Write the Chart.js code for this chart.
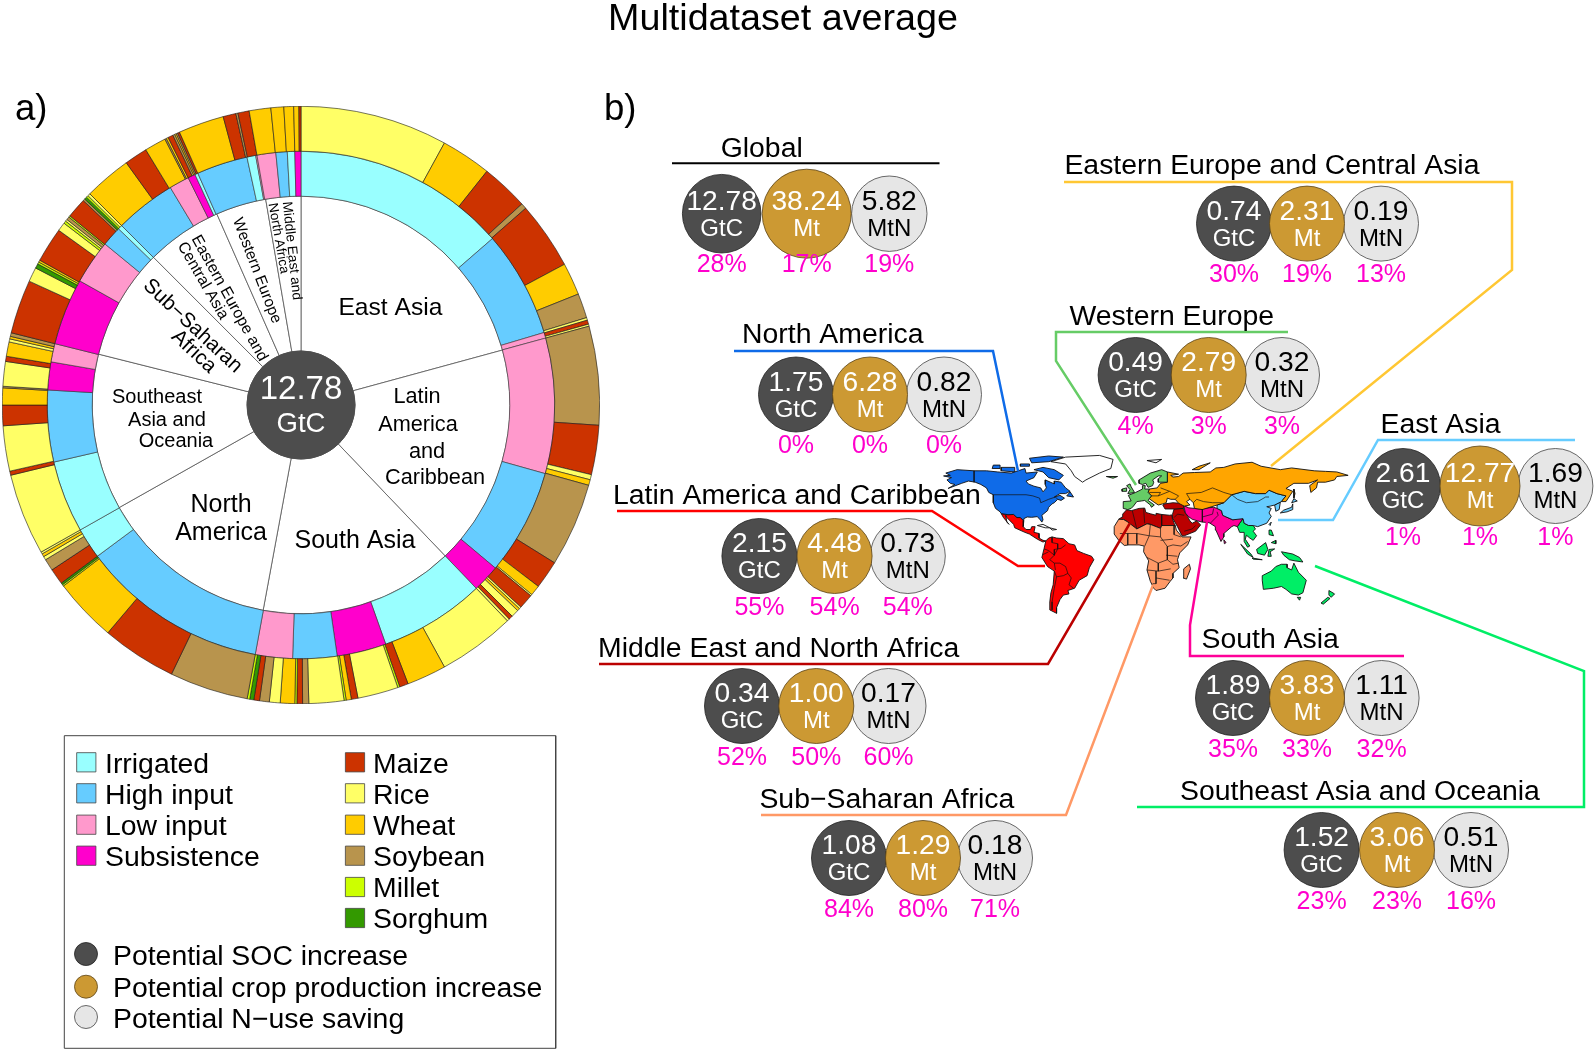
<!DOCTYPE html>
<html>
<head>
<meta charset="utf-8">
<title>Multidataset average</title>
<script src="https://cdn.jsdelivr.net/npm/chart.js@4"></script>
<style>
  html, body { margin: 0; padding: 0; background: #fff; overflow: hidden; }
  canvas { position: absolute; }
  #ringChart { left: 2px; top: 106px; z-index: 1; }
  #mapChart { left: 929.6px; top: 448.4px; z-index: 2; }
  #panelChart { left: 0; top: 0; z-index: 3; }
</style>
</head>
<body>
<canvas id="ringChart" width="598" height="598"></canvas>
<canvas id="mapChart" width="424" height="171"></canvas>
<canvas id="panelChart" width="1594" height="1049"></canvas>
<script>
// Panel a: the three rings, read clockwise from the top
const ringRegions = ['East Asia', 'Latin America and Caribbean', 'South Asia', 'North America', 'Southeast Asia and Oceania', 'Sub-Saharan Africa', 'Eastern Europe and Central Asia', 'Western Europe', 'Middle East and North Africa'];
const ringRegionValues = [2.61, 2.15, 1.89, 1.75, 1.52, 1.08, 0.74, 0.49, 0.34];

const managementKinds = [
  'Irrigated', 'High input', 'Low input',
  'Low input', 'High input', 'Subsistence',
  'Irrigated', 'Subsistence', 'High input', 'Low input',
  'High input', 'Irrigated',
  'Irrigated', 'High input', 'Subsistence', 'Low input',
  'Subsistence', 'Low input', 'High input', 'Irrigated',
  'High input', 'Low input', 'Subsistence', 'Irrigated',
  'High input', 'Irrigated', 'Low input',
  'Low input', 'High input', 'Irrigated', 'Subsistence'
];
const managementValues = [
  49, 24.4, 1.3,
  31, 24.3, 6.3,
  24.2, 11.3, 10.1, 8.5,
  43, 7.1,
  16.5, 16.4, 6.4, 4.2,
  15.3, 10.1, 4.6, 1,
  14, 4.6, 1.7, 0.7,
  11.7, 2, 0.3,
  4.3, 2.6, 1.7, 1.4
];

const cropKinds = [
  'Rice', 'Wheat', 'Maize', 'Soybean', 'Maize', 'Wheat', 'Soybean', 'Rice', 'Maize', 'Rice',
  'Soybean', 'Maize', 'Rice', 'Wheat', 'Soybean', 'Maize', 'Wheat', 'Rice', 'Maize', 'Rice', 'Wheat', 'Rice', 'Maize', 'Rice',
  'Rice', 'Wheat', 'Maize', 'Millet', 'Rice', 'Maize', 'Wheat', 'Millet', 'Rice', 'Soybean', 'Maize', 'Millet', 'Wheat', 'Rice', 'Soybean', 'Maize', 'Sorghum', 'Millet',
  'Soybean', 'Maize', 'Wheat', 'Millet', 'Sorghum', 'Maize', 'Soybean', 'Rice', 'Wheat', 'Rice',
  'Rice', 'Maize', 'Rice', 'Maize', 'Wheat', 'Soybean', 'Rice', 'Maize', 'Wheat', 'Rice', 'Wheat', 'Soybean',
  'Maize', 'Rice', 'Sorghum', 'Millet', 'Wheat', 'Maize', 'Rice', 'Millet', 'Rice', 'Soybean', 'Millet', 'Maize', 'Soybean', 'Sorghum', 'Millet', 'Rice',
  'Wheat', 'Maize', 'Wheat', 'Soybean', 'Wheat', 'Maize', 'Soybean', 'Wheat', 'Soybean', 'Maize',
  'Wheat', 'Maize', 'Soybean', 'Maize',
  'Wheat', 'Wheat', 'Wheat', 'Wheat', 'Maize'
];
const cropValues = [
  28.7, 9.8, 9.2, 1.1, 13.1, 6.3, 4.8, 0.5, 0.8, 0.4,
  19.2, 9.6, 1, 1.1, 16.3, 5.5, 2, 0.3, 2.9, 0.4, 0.5, 1.5, 0.8, 0.5,
  15, 7.7, 1.7, 0.4, 7.9, 1.3, 1, 0.4, 6.8, 1.2, 1.1, 0.4, 2.8, 2.1, 1.9, 1.1, 0.8, 0.5,
  15.3, 14.6, 12.4, 0.3, 0.4, 3.1, 2.3, 0.7, 0.6, 0.4,
  15.9, 0.8, 8.8, 4, 3.3, 0.3, 4.8, 1, 2.8, 0.6, 0.5, 0.7,
  10.5, 2.8, 0.9, 0.4, 0.4, 6.8, 1.7, 0.5, 0.4, 0.6, 0.3, 3.9, 0.4, 0.5, 0.4, 0.5,
  9.2, 4.5, 4.2, 0.3, 0.4, 1, 0.4, 0.3, 0.3, 0.4,
  8.9, 2.5, 0.4, 2.2,
  4.2, 2.5, 1.9, 1, 0.4
];

// Panel b: figures per region
const panelRegions = ['Global', 'Eastern Europe and Central Asia', 'Western Europe', 'North America', 'East Asia', 'Latin America and Caribbean', 'Middle East and North Africa', 'South Asia', 'Sub\u2212Saharan Africa', 'Southeast Asia and Oceania'];
const socIncrease = [12.78, 0.74, 0.49, 1.75, 2.61, 2.15, 0.34, 1.89, 1.08, 1.52];
const cropIncrease = [38.24, 2.31, 2.79, 6.28, 12.77, 4.48, 1.00, 3.83, 1.29, 3.06];
const nSaving = [5.82, 0.19, 0.32, 0.82, 1.69, 0.73, 0.17, 1.11, 0.18, 0.51];
const socPct = [28, 30, 4, 0, 1, 55, 52, 35, 84, 23];
const cropPct = [17, 19, 3, 0, 1, 54, 50, 33, 80, 23];
const nPct = [19, 13, 3, 0, 1, 54, 60, 32, 71, 16];

// Colours
const kindColors = {
  'Irrigated': '#99FFFF', 'High input': '#66CCFF', 'Low input': '#FF99CC', 'Subsistence': '#FF00CC',
  'Maize': '#CC3300', 'Rice': '#FFFF66', 'Wheat': '#FFCC00', 'Soybean': '#B8944D', 'Millet': '#CCFF00', 'Sorghum': '#339900'
};
const SOC_DARK = '#4D4D4D', CROP_GOLD = '#CC9933', N_LIGHT = '#E6E6E6', PCT_PINK = '#FF00CC';
const FONT = '"Liberation Sans", Arial, sans-serif';

// Map outlines as lon/lat
const mapRegions = {
  northAmerica: {
    color: '#0F6BE8',
    shapes: [
      [[-141,70],[-156,71],[-166,68],[-162,66],[-168,65.5],[-161,64],[-165,62],[-162,59],[-158,58],[-164,54.5],[-152,59],[-146,61],[-140,60],[-135,58],[-130,55],[-128,51],[-124,49],[-124,46],[-124,42],[-122,37],[-118,34],[-117,32.5],[-111,31.5],[-106,31.7],[-103,29],[-100,29],[-97,26],[-97,28],[-94,29.5],[-90,29.2],[-85,29.8],[-82.5,27],[-81,25],[-80,27],[-81,31],[-76,35],[-75,38],[-72,41],[-70,42],[-67,45],[-64,44],[-61,46],[-65,48.5],[-70,47],[-65,50],[-60,50],[-56,52],[-60,55],[-64,60],[-70,61],[-70,58.5],[-78,62],[-78,58],[-77,55],[-80,51.5],[-82,55],[-88,56.5],[-93,58.5],[-95,61],[-88,64],[-85,69],[-95,68],[-96,72],[-108,68],[-120,69],[-130,70]],
      [[-80,73],[-70,71],[-62,66],[-66,62],[-75,64],[-80,69],[-88,71]],
      [[-117,70],[-105,69],[-105,73],[-117,73]],
      [[-90,77],[-75,78],[-62,82],[-75,83],[-92,81]],
      [[-125,72],[-118,72],[-118,75],[-124,75]],
      [[-100,74],[-92,74],[-92,76],[-100,76]],
      [[-59,48],[-53,47],[-56,51.5]]
    ]
  },
  latinAmerica: {
    color: '#FF0000',
    shapes: [
      [[-117,32.5],[-111,31.5],[-106,31.7],[-103,29],[-100,29],[-97,26],[-97.5,21],[-95,18.5],[-91,18.5],[-90,21],[-87,21],[-88,16],[-83.5,15],[-83.5,11],[-80,9],[-77.5,8.5],[-80,7.5],[-85,10],[-92,14.5],[-96,16],[-105,20],[-106,23],[-112,29],[-113,31],[-112,25],[-110,23],[-115,29]],
      [[-77.5,8.5],[-75,11],[-72,12],[-68,11],[-62,10.5],[-57,6],[-52,5],[-50,0],[-44,-2.5],[-37,-5],[-35,-8],[-39,-15],[-41,-22],[-48,-26],[-52,-33],[-58,-35],[-57,-38],[-62,-39],[-65,-43],[-68,-50],[-68,-55],[-74,-52],[-74,-45],[-73,-37],[-71,-30],[-70,-18],[-76,-14],[-81,-6],[-80,-2],[-79,2]]
    ]
  },
  greenlandIslands: {
    color: '#FFFFFF',
    shapes: [
      [[-73,78],[-60,82],[-30,83.5],[-18,80],[-20,72],[-30,68],[-42,62],[-45,60],[-52,65],[-55,70],[-60,76]],
      [[-85,22],[-80,23],[-74,20],[-78,20]],
      [[-74,20],[-68,18.5],[-72,18]],
      [[12,79],[25,80],[20,77]]
    ]
  },
  westernEurope: {
    color: '#66CC66',
    shapes: [
      [[-5,50],[1,51],[-2,56],[-3,58.5],[-6,57],[-3,53.5]],
      [[-10,52],[-6,52],[-6,55],[-10,54]],
      [[-24,65],[-14,65],[-18,63.5]],
      [[-9,37],[-9,43],[-2,43.5],[-4.5,48.5],[2,51],[8,54],[8,57],[10.5,57],[10,54],[14,54],[13,51],[16,48],[14,45.5],[13,44],[18.5,40],[16,38],[15,40],[10,44],[7,43.5],[3,43],[0,39],[-2,37],[-5,36]],
      [[5,59],[8,58],[11,59],[13,55.5],[17,57],[18,60],[17,62],[22,65.5],[25,65.5],[22,63],[22,60],[30,60],[30,69],[25,71],[15,68],[5,62]]
    ]
  },
  easternEurope: {
    color: '#FFA500',
    shapes: [
      [[14,54],[21,55],[24,59],[30,60],[30,69],[40,67],[33,66],[35,64.5],[40,65],[44,68],[54,68.5],[68,69],[73,72.5],[80,73],[90,76],[105,77.5],[113,74],[130,71],[140,72.5],[160,70],[170,69.5],[180,69],[190,66],[180,65],[178,62],[170,60],[163,60],[162,55],[157,51],[156,57],[163,62],[155,59],[142,59],[135,54.5],[141,52],[135,43],[131,43],[135,48],[127,50],[120,53],[117,50],[108,50],[98,52],[87,49],[80,42],[74,40],[66,37.5],[61,36],[54,37],[53,42],[50,45],[47,43],[50,40],[45,39],[40,41.5],[37,45],[33,45],[30,46],[29,42],[26,41],[22,40],[19,42],[14,45.5],[16,48],[13,51]],
      [[142,46],[143,50],[142,54]],
      [[52,71],[58,74],[68,77],[58,71]]
    ]
  },
  eastAsia: {
    color: '#66CCFF',
    shapes: [
      [[74,40],[80,42],[87,49],[98,52],[108,50],[117,50],[120,53],[127,50],[135,48],[131,43],[125,40],[121,39],[118,38.5],[122,37],[120,33],[122,30],[118,24],[110,21],[106,22],[102,22],[98,24],[97,28],[88,27],[81,30],[79,31],[78,35],[74,37]],
      [[125,40],[130,42.5],[129,36],[126,34.5]],
      [[130,33],[136,34],[141,36],[141,41],[140,38],[133,35.5]],
      [[140,42],[145,43.5],[142,45.5]],
      [[120,23],[122,25],[121,22]]
    ]
  },
  southAsia: {
    color: '#FF0099',
    shapes: [
      [[44.5,39.5],[49,37.5],[54,37],[60,36.5],[66,37.5],[71,38],[74,37],[78,35],[79,31],[81,30],[88,27],[92,28],[97,28],[94,24],[92,21],[89,22],[87,21],[80,15],[80,12],[77.5,8],[73,18],[72.5,21],[67,24.5],[61,25],[57,26],[52,27.5],[48.5,30],[46,33]],
      [[80,9.5],[82,7],[80.5,6]]
    ]
  },
  southeastAsia: {
    color: '#00EE66',
    shapes: [
      [[92,21],[94,24],[97,28],[98,24],[102,22],[106,22],[108,19],[106,17],[109,13],[106,9],[103,11],[100,13.5],[99,10],[103,4],[101,3],[98,8],[98,16],[94,16]],
      [[95,5.5],[104,-3],[106,-6],[101,-3]],
      [[105,-6.5],[114,-8],[106,-7.5]],
      [[109,1],[117,7],[119,1],[116,-4],[110,-2.5]],
      [[119,-5],[120,1],[125,1.5],[121,-1],[122,-5]],
      [[131,-1],[141,-3],[147,-6],[150,-10],[143,-9],[138,-8],[133,-4]],
      [[120,18],[122,18],[124,13],[120,14]],
      [[122,7],[126,9],[126,6]],
      [[114,-22],[122,-18],[126,-14],[131,-12],[136,-12],[136,-15],[140,-17],[142,-11],[146,-19],[153,-26],[150,-37],[146,-39],[140,-38],[135,-34],[131,-31.5],[124,-33],[115,-34],[114,-26]],
      [[145,-41],[148,-41],[147,-43.5]],
      [[173,-35],[178,-38],[175,-41],[173,-39]],
      [[172,-41],[174,-42],[168,-47],[166,-46]]
    ]
  },
  subSaharanAfrica: {
    color: '#FF9966',
    shapes: [
      [[-17,21],[-13,27.5],[-8.7,27.3],[-4.8,25],[3,19],[12,23.5],[15,23],[24,19.5],[25,22],[37,22],[38,18],[43,12],[51,12],[48,5],[41,-2],[39,-8],[40.5,-15],[35,-20],[35,-24],[32.5,-27],[28,-33],[20,-35],[18,-33],[15,-27],[12,-17],[13.5,-9],[9,-1],[9.5,4],[5,5],[-4,5],[-8,4.5],[-13,9],[-17,14.5]],
      [[49.5,-12],[50.5,-16],[47,-25],[44,-24],[44.5,-16]]
    ]
  },
  middleEast: {
    color: '#BB0000',
    shapes: [
      [[-13,27.5],[-10,29.5],[-9.5,32],[-6,35.8],[-2,35],[5,37],[10,37.3],[11,33.5],[15,32.3],[20,31],[20,32.7],[25,31.7],[32,31],[34,31.3],[34.5,28],[36,24],[37,22],[25,22],[24,19.5],[15,23],[12,23.5],[3,19],[-4.8,25],[-8.7,27.3]],
      [[26,40],[28,36.5],[36,36.5],[44,37],[44.5,40],[41.5,41.5],[35,42],[28,41]],
      [[34.5,31.5],[36,36.5],[44,37],[46,33],[48,30],[50,26],[52,24],[56,26],[59.5,22.5],[55,17],[45,13],[43,13],[39,21],[35,28]]
    ]
  }
};
const mapBorders = [
  [[-124,49],[-95,49],[-89,48],[-83,46],[-82,42],[-75,45],[-69,47],[-67,45]],
  [[-141,70],[-141,60]],
  [[-60,5],[-64,2],[-70,1],[-70,-4],[-74,-8],[-70,-11],[-65,-11],[-60,-14],[-58,-20],[-55,-24],[-57,-30],[-53,-33]],
  [[-70,-18],[-68,-23],[-70,-33],[-72,-45],[-72,-52]],
  [[-68,-23],[-62,-22],[-58,-20]],
  [[-70,-11],[-69,-17]],
  [[-72,12],[-72,7],[-67,6],[-67,1.5],[-70,-4],[-75,0],[-79,1.5]],
  [[-80,-3.5],[-75,-1]],
  [[-12,15],[-5,15],[3,15],[14,13],[15,23]],
  [[14,13],[24,12],[24,19.5]],
  [[24,12],[30,3.5],[35,5],[42,4],[48,8]],
  [[30,3.5],[30,-8],[22,-11],[12,-6]],
  [[14,13],[10,4]],
  [[3,15],[3,6]],
  [[-5,15],[-5,5]],
  [[30,-8],[35,-12],[40,-11]],
  [[22,-11],[22,-18],[12,-17]],
  [[22,-18],[33,-16]],
  [[20,-18],[20,-29],[17,-29]],
  [[20,-24],[26,-25],[32,-26]],
  [[29,-4],[39,-5]],
  [[36,22],[36,14],[42,12]],
  [[24,9],[35,10]],
  [[-1,35],[3,19]],
  [[9,37],[10,24]],
  [[25,31.7],[25,22]],
  [[61,36.5],[61,25]],
  [[74,34],[75,31],[70,26],[68,24]],
  [[71,37],[70,32],[61,29.5]],
  [[87,49],[92,45],[100,42],[110,43],[117,47],[120,47]],
  [[50,45],[47,50],[60,51],[70,55],[80,51],[87,49]],
  [[22,48],[32,52],[40,48],[37,45]],
  [[53,42],[56,45],[62,43],[70,42],[80,42]],
  [[14,51],[24,51],[22,48],[16,48]],
  [[24,55],[32,52]],
  [[45,31],[39,32],[36,29]],
  [[55,22],[52,19],[45,17]]
];

// Page layout for panel b, in page pixels
const groupLayout = [
  { xs: [721.7, 806.7, 889.3], y: 213.7, r: [39.3, 44.5, 37.7], tx: 761.7, ty: 156.5 },
  { xs: [1234, 1307, 1381], y: 223.6, r: [37.5, 37.5, 37.5], tx: 1064.4, ty: 174 },
  { xs: [1135.6, 1208.7, 1282], y: 375, r: [37.5, 37.5, 37.5], tx: 1069.5, ty: 325 },
  { xs: [796, 870, 944], y: 394.5, r: [37.5, 37.5, 37.5], tx: 742, ty: 342.7 },
  { xs: [1403, 1480, 1555.4], y: 486, r: [37.5, 40, 37.5], tx: 1380.6, ty: 433 },
  { xs: [759.4, 834.6, 907.8], y: 556, r: [37.5, 37.5, 37.5], tx: 613, ty: 504.4 },
  { xs: [742, 816.3, 888.5], y: 706, r: [37.5, 37.5, 37.5], tx: 598, ty: 657 },
  { xs: [1233, 1307, 1381.6], y: 698, r: [37.5, 37.5, 37.5], tx: 1201.6, ty: 647.7 },
  { xs: [849, 923, 995], y: 858, r: [37.5, 37.5, 37.5], tx: 759.4, ty: 808 },
  { xs: [1321.6, 1397, 1471], y: 850, r: [37.5, 37.5, 37.5], tx: 1180, ty: 800 }
];
const leaderLines = [
  { color: '#000000', width: 2, pts: [[672, 163.3], [939.5, 163.3]] },
  { color: '#FFC733', width: 2.5, pts: [[1064, 182], [1512, 182], [1512, 270], [1271, 466]] },
  { color: '#66CC66', width: 2.5, pts: [[1288, 332], [1056, 332], [1056, 361], [1136, 485]] },
  { color: '#0F6BE8', width: 2.5, pts: [[734, 351], [993, 351], [1018, 471]] },
  { color: '#FF0000', width: 2.5, pts: [[617, 511], [932, 511], [1018, 566], [1045, 566]] },
  { color: '#BB0000', width: 2.5, pts: [[599, 664], [1048, 664], [1130, 523]] },
  { color: '#FF9966', width: 2.5, pts: [[761, 815], [1066, 815], [1153, 585]] },
  { color: '#FF0099', width: 2.5, pts: [[1404, 656], [1190, 656], [1190, 625], [1207, 522]] },
  { color: '#00EE66', width: 2.5, pts: [[1137, 807], [1584, 807], [1584, 671], [1315, 566]] },
  { color: '#66CCFF', width: 2.5, pts: [[1575, 440], [1378, 440], [1333, 520], [1278, 520]] }
];
const legendBox = [[64.3, 735.7], [555.7, 735.7], [555.7, 1048.3], [64.3, 1048.3], [64.3, 735.7]];
const legendLeft = ['Irrigated', 'High input', 'Low input', 'Subsistence'];
const legendRight = ['Maize', 'Rice', 'Wheat', 'Soybean', 'Millet', 'Sorghum'];
const legendRows = [762.3, 793.3, 824.7, 855.7, 887, 918];
const legendCircles = ['Potential SOC increase', 'Potential crop production increase', 'Potential N\u2212use saving'];
const legendCircleRows = [954, 986.7, 1017];

// Text inside the rings: [text, x, y, size, degrees]
const ringLabels = [
  ['East Asia', 390.4, 308, 24.6, 0],
  ['Latin', 417, 397, 21.7, 0],
  ['America', 418, 425, 21.7, 0],
  ['and', 427, 452, 21.7, 0],
  ['Caribbean', 435, 478, 21.7, 0],
  ['South Asia', 355, 541, 25, 0],
  ['North', 221, 505, 25, 0],
  ['America', 221, 533, 25, 0],
  ['Southeast', 157, 397, 20, 0],
  ['Asia and', 167, 420, 20, 0],
  ['Oceania', 176, 441, 20, 0],
  ['Sub\u2212Saharan', 192.5, 326, 20.7, 43],
  ['Africa', 193.7, 351.7, 20.7, 43],
  ['Eastern Europe and', 229.3, 298.3, 15.9, 61],
  ['Central Asia', 202.7, 280.7, 15.9, 60],
  ['Western Europe', 256.7, 270.7, 15.5, 69],
  ['Middle East and', 291.7, 250.7, 13.8, 84],
  ['North Africa', 278.3, 238.3, 13.5, 80]
];

new Chart(document.getElementById('ringChart'), {
  type: 'doughnut',
  data: {
    labels: cropKinds,
    datasets: [
      { label: 'Crops', data: cropValues, backgroundColor: cropKinds.map(k => kindColors[k]), borderColor: '#1a1a1a', borderWidth: 0.6, weight: 45 },
      { label: 'Management', data: managementValues, backgroundColor: managementKinds.map(k => kindColors[k]), borderColor: '#333', borderWidth: 0.6, weight: 45 },
      { label: 'Regions', data: ringRegionValues, backgroundColor: '#fff', borderColor: '#555', borderWidth: 0.8, weight: 155 }
    ]
  },
  options: {
    responsive: false,
    animation: false,
    cutout: 54,
    layout: { padding: 0 },
    events: [],
    plugins: { legend: { display: false }, tooltip: { enabled: false } }
  }
});

// Map, real lon/lat axes
const mapDatasets = [];
Object.values(mapRegions).forEach(region => {
  region.shapes.forEach(shape => {
    mapDatasets.push({
      data: shape.concat([shape[0]]).map(p => ({ x: p[0], y: p[1] })),
      showLine: true, fill: 'shape', backgroundColor: region.color,
      borderColor: '#111', borderWidth: 0.9, pointRadius: 0, tension: 0, order: 2
    });
  });
});
mapBorders.forEach(line => {
  mapDatasets.push({
    data: line.map(p => ({ x: p[0], y: p[1] })),
    showLine: true, fill: false, borderColor: '#111', borderWidth: 0.7, pointRadius: 0, tension: 0, order: 1
  });
});
new Chart(document.getElementById('mapChart'), {
  type: 'scatter',
  data: { datasets: mapDatasets },
  options: {
    responsive: false,
    animation: false,
    layout: { padding: 0, autoPadding: false },
    events: [],
    scales: {
      x: { type: 'linear', min: -180, max: 195.2, display: false },
      y: { type: 'linear', min: -60, max: 90, display: false }
    },
    plugins: { legend: { display: false }, tooltip: { enabled: false } }
  }
});

// Circles, leaders, legend and all text on a page-sized overlay
function circleSet(values, color, edge, idx, order) {
  return {
    data: groupLayout.map(g => ({ x: g.xs[idx], y: g.y })),
    pointRadius: groupLayout.map(g => g.r[idx]),
    backgroundColor: color, pointBackgroundColor: color, pointBorderColor: edge, pointBorderWidth: 0.8,
    showLine: false, order: order
  };
}
const panelDatasets = [
  circleSet(cropIncrease, CROP_GOLD, '#5a4315', 1, 1),
  circleSet(socIncrease, SOC_DARK, '#222', 0, 2),
  circleSet(nSaving, N_LIGHT, '#444', 2, 2),
  { // centre of the rings
    data: [{ x: 301, y: 405 }], pointRadius: 54, pointBackgroundColor: SOC_DARK, pointBorderColor: SOC_DARK, showLine: false, order: 2
  },
  { // legend squares
    data: legendLeft.map((k, i) => ({ x: 86.3, y: legendRows[i] })).concat(legendRight.map((k, i) => ({ x: 355, y: legendRows[i] }))),
    pointStyle: 'rect', pointRadius: 13.6,
    pointBackgroundColor: legendLeft.concat(legendRight).map(k => kindColors[k]),
    pointBorderColor: '#444', pointBorderWidth: 0.8, showLine: false, order: 2
  },
  { // legend circles
    data: legendCircleRows.map(y => ({ x: 86, y: y })), pointRadius: 11.5,
    pointBackgroundColor: [SOC_DARK, CROP_GOLD, N_LIGHT], pointBorderColor: ['#222', '#5a4315', '#444'], pointBorderWidth: 0.8,
    showLine: false, order: 2
  },
  {
    data: legendBox.map(p => ({ x: p[0], y: p[1] })), showLine: true, fill: false,
    borderColor: '#444', borderWidth: 1, pointRadius: 0, tension: 0, order: 5
  }
];
leaderLines.forEach(l => {
  panelDatasets.push({
    data: l.pts.map(p => ({ x: p[0], y: p[1] })), showLine: true, fill: false,
    borderColor: l.color, borderWidth: l.width, pointRadius: 0, tension: 0, order: 6
  });
});

function put(ctx, text, x, y, size, color, align, deg) {
  ctx.save();
  ctx.font = size + 'px ' + FONT;
  ctx.fillStyle = color || '#000';
  ctx.textAlign = align || 'center';
  ctx.textBaseline = deg === undefined ? 'alphabetic' : 'middle';
  ctx.translate(x, y);
  if (deg) ctx.rotate(deg * Math.PI / 180);
  ctx.fillText(text, 0, 0);
  ctx.restore();
}

const panelText = {
  id: 'panelText',
  afterDraw(chart) {
    const ctx = chart.ctx;
    put(ctx, 'Multidataset average', 783, 30, 37.7);
    put(ctx, 'a)', 15, 120, 36.6, '#000', 'left');
    put(ctx, 'b)', 604, 120, 36.6, '#000', 'left');

    ringLabels.forEach(l => put(ctx, l[0], l[1], l[2], l[3], '#000', 'center', l[4]));
    put(ctx, '12.78', 301, 399, 33, '#fff');
    put(ctx, 'GtC', 301, 432, 27.5, '#fff');

    panelRegions.forEach((name, i) => {
      const g = groupLayout[i];
      put(ctx, name, g.tx, g.ty, 28.4, '#000', i === 0 ? 'center' : 'left');
      const nums = [socIncrease[i], cropIncrease[i], nSaving[i]];
      const units = ['GtC', 'Mt', 'MtN'];
      const pcts = [socPct[i], cropPct[i], nPct[i]];
      nums.forEach((v, j) => {
        const col = j === 2 ? '#000' : '#fff';
        put(ctx, v.toFixed(2), g.xs[j], g.y - 3.7, 28.2, col);
        put(ctx, units[j], g.xs[j], g.y + 22.3, 24, col);
        put(ctx, pcts[j] + '%', g.xs[j], g.y + 58.7, 25, PCT_PINK);
      });
    });

    legendLeft.forEach((t, i) => put(ctx, t, 105, legendRows[i] + 10.4, 28.4, '#000', 'left'));
    legendRight.forEach((t, i) => put(ctx, t, 373, legendRows[i] + 10.4, 28.4, '#000', 'left'));
    legendCircles.forEach((t, i) => put(ctx, t, 113, legendCircleRows[i] + 10.6, 28.4, '#000', 'left'));
  }
};

new Chart(document.getElementById('panelChart'), {
  type: 'scatter',
  data: { datasets: panelDatasets },
  options: {
    responsive: false,
    animation: false,
    layout: { padding: 0, autoPadding: false },
    events: [],
    scales: {
      x: { type: 'linear', min: 0, max: 1594, display: false },
      y: { type: 'linear', min: 0, max: 1049, reverse: true, display: false }
    },
    plugins: { legend: { display: false }, tooltip: { enabled: false } }
  },
  plugins: [panelText]
});
</script>
</body>
</html>
